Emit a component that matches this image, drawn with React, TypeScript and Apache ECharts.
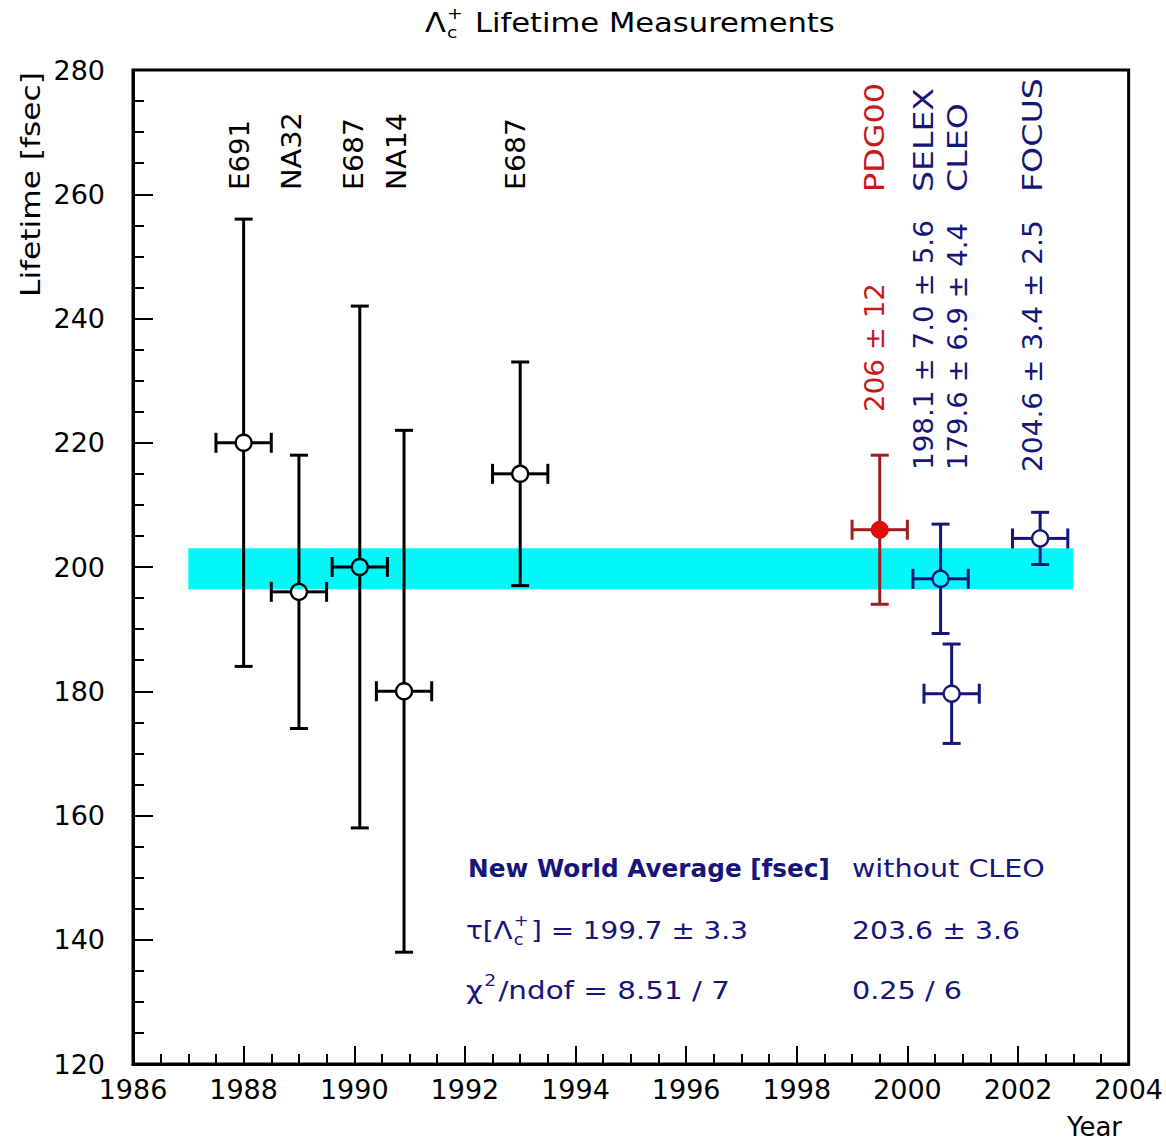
import React, { useEffect, useRef } from "react";
import * as echarts from "echarts";

// ---- data ----
const experiments = ["E691", "NA32", "E687", "NA14", "E687", "PDG00", "SELEX", "CLEO", "FOCUS"];
const years = [1988.0, 1989.0, 1990.1, 1990.9, 1993.0, 1999.5, 2000.6, 2000.8, 2002.4];
const lifetimes = [220, 196, 200, 180, 215, 206, 198.1, 179.6, 204.6];
const errLow = [36, 22, 42, 42, 18, 12, 8.8, 8.0, 4.2];
const errHigh = [36, 22, 42, 42, 18, 12, 8.8, 8.0, 4.2];
const yearErr = [0.5, 0.5, 0.5, 0.5, 0.5, 0.5, 0.5, 0.5, 0.5];
const groups = ["old", "old", "old", "old", "old", "pdg", "new", "new", "new"];
const resultTexts = ["", "", "", "", "", "206 ± 12", "198.1 ± 7.0 ± 5.6", "179.6 ± 6.9 ± 4.4", "204.6 ± 3.4 ± 2.5"];

const worldAverage = 199.7;
const worldAverageErr = 3.3;
const bandYears = [1987, 2003];
const noCleoAverage = "203.6 ± 3.6";
const chi2 = "8.51 / 7";
const chi2NoCleo = "0.25 / 6";

const xMin = 1986, xMax = 2004, xStep = 2;
const yMin = 120, yMax = 280, yStep = 20;

// ---- style ----
const FONT = "DejaVu Sans";
const NAVY = "#15157a";
const RED_TEXT = "#c81818";
const lineColor: Record<string, string> = { old: "#000000", pdg: "#a01c1c", new: NAVY };
const markerFilled: Record<string, boolean> = { old: false, pdg: true, new: false };
const markerStroke: Record<string, string> = { old: "#000000", pdg: "#d01010", new: NAVY };
const markerFillColor: Record<string, string> = { old: "#000000", pdg: "#e00e0e", new: NAVY };

let measureCtx: CanvasRenderingContext2D | null = null;
function measure(text: string, size: number, weight = "normal") {
  if (!measureCtx) measureCtx = document.createElement("canvas").getContext("2d");
  measureCtx!.font = `${weight} ${size}px "${FONT}"`;
  return measureCtx!.measureText(text).width;
}

type Piece = string | { sup?: string; sub?: string };
function run(pieces: Piece[], left: number, right: number, cy: number, size: number, color: string, weight = "normal") {
  const small = Math.round(size * 0.62);
  let x = 0;
  const children: any[] = [];
  const txt = (t: string, px: number, py: number, s: number) => ({
    type: "text",
    x: px,
    y: py,
    style: { text: t, fontSize: s, fontFamily: FONT, fontWeight: weight, fill: color, align: "left", verticalAlign: "middle" },
  });
  for (const p of pieces) {
    if (typeof p === "string") {
      children.push(txt(p, x, 0, size));
      x += measure(p, size, weight);
    } else {
      let adv = 0;
      if (p.sup) {
        children.push(txt(p.sup, x + 1, -size * 0.38, small));
        adv = Math.max(adv, measure(p.sup, small, weight));
      }
      if (p.sub) {
        children.push(txt(p.sub, x + 1, size * 0.36, small));
        adv = Math.max(adv, measure(p.sub, small, weight));
      }
      x += adv + 3;
    }
  }
  return { type: "group", x: left, y: cy, scaleX: (right - left) / x, children };
}

function vlabel(text: string, cx: number, bottom: number, top: number, size: number, color: string) {
  return {
    type: "text",
    x: cx,
    y: bottom,
    rotation: Math.PI / 2,
    scaleX: (bottom - top) / measure(text, size),
    style: { text, fontSize: size, fontFamily: FONT, fill: color, align: "left", verticalAlign: "middle" },
  };
}

export default function App() {
  const ref = useRef<HTMLDivElement>(null);
  useEffect(() => {
    if (!ref.current) return;
    const chart = echarts.init(ref.current, null, { renderer: "svg" });

    const pointData = years.map((y, i) => [y, lifetimes[i], errLow[i], errHigh[i], yearErr[i], i]);
    const bandData = [[bandYears[0], bandYears[1], worldAverage - worldAverageErr, worldAverage + worldAverageErr]];

    // label layout (pixels): [centre x, bottom y, top y]
    const nameLayout = [
      [240, 190, 120], [292, 190, 112], [354, 190, 118], [397, 190, 113], [516, 190, 118],
      [875, 192, 83], [924, 192, 88], [958, 192, 103], [1033, 192, 78],
    ];
    const resultLayout: Record<number, number[]> = { 5: [875, 412, 283], 6: [924, 470, 220], 7: [958, 470, 223], 8: [1033, 472, 220] };

    const graphics: any[] = [];
    experiments.forEach((name, i) => {
      const [cx, b, t] = nameLayout[i];
      const col = groups[i] === "pdg" ? RED_TEXT : lineColor[groups[i]];
      graphics.push(vlabel(name, cx, b, t, 26, col));
      if (resultLayout[i]) {
        const [rx, rb, rt] = resultLayout[i];
        graphics.push(vlabel(resultTexts[i], rx, rb, rt, 26, col));
      }
    });
    // title
    graphics.push(run(["Λ", { sup: "+", sub: "c" }, " Lifetime Measurements"], 425, 835, 23, 26, "#000"));
    // axis titles
    graphics.push(vlabel("Lifetime [fsec]", 31, 297, 72, 26, "#000"));
    graphics.push({
      type: "text", x: 1122, y: 1127,
      style: { text: "Year", fontSize: 26, fontFamily: FONT, fill: "#000", align: "right", verticalAlign: "middle" },
    });
    // averages box
    graphics.push(run(["New World Average [fsec]"], 468, 830, 868, 25, NAVY, "bold"));
    graphics.push(run(["without CLEO"], 852, 1045, 868, 25, NAVY));
    graphics.push(run(["τ[Λ", { sup: "+", sub: "c" }, `] = ${worldAverage.toFixed(1)} ± ${worldAverageErr.toFixed(1)}`], 466, 748, 930, 25, NAVY));
    graphics.push(run([noCleoAverage], 852, 1020, 930, 25, NAVY));
    graphics.push(run(["χ", { sup: "2" }, `/ndof = ${chi2}`], 466, 730, 990, 25, NAVY));
    graphics.push(run([chi2NoCleo], 852, 962, 990, 25, NAVY));

    const labelStyle = {
      color: "#000", fontFamily: FONT, fontSize: 27, showMinLabel: true, showMaxLabel: true,
      formatter: (v: number) => String(v),
    };
    const axisCommon = {
      type: "value",
      axisLine: { show: true, onZero: false, lineStyle: { color: "#000", width: 3 } },
      splitLine: { show: false },
    };

    chart.setOption({
      animation: false,
      backgroundColor: "#ffffff",
      grid: { left: 133, top: 70, width: 997, height: 994, show: true, borderColor: "#000", borderWidth: 3, backgroundColor: "transparent" },
      xAxis: {
        ...axisCommon,
        min: xMin, max: xMax, interval: xStep,
        axisTick: { show: true, inside: true, length: 18, lineStyle: { color: "#000", width: 2 } },
        minorTick: { show: true, splitNumber: 4, length: 10, lineStyle: { color: "#000", width: 2 } },
        axisLabel: { ...labelStyle, margin: 12 },
      },
      yAxis: {
        ...axisCommon,
        min: yMin, max: yMax, interval: yStep,
        axisTick: { show: true, inside: true, length: 20, lineStyle: { color: "#000", width: 2 } },
        minorTick: { show: true, splitNumber: 4, length: 11, lineStyle: { color: "#000", width: 2 } },
        axisLabel: { ...labelStyle, margin: 28 },
      },
      series: [
        {
          type: "custom",
          data: bandData,
          encode: { x: [0, 1], y: [2, 3] },
          renderItem: (params: any, api: any) => {
            const p1 = api.coord([api.value(0), api.value(3)]);
            const p2 = api.coord([api.value(1), api.value(2)]);
            return {
              type: "rect",
              shape: { x: p1[0], y: p1[1], width: p2[0] - p1[0], height: p2[1] - p1[1] },
              style: { fill: "#00f8f8" },
            };
          },
          z: 1,
        },
        {
          type: "custom",
          data: pointData,
          encode: { x: 0, y: 1 },
          renderItem: (params: any, api: any) => {
            const x = api.value(0), y = api.value(1);
            const lo = api.value(2), hi = api.value(3), xe = api.value(4);
            const g = groups[api.value(5)];
            const c = api.coord([x, y]);
            const pHi = api.coord([x, y + hi]);
            const pLo = api.coord([x, y - lo]);
            const pL = api.coord([x - xe, y]);
            const pR = api.coord([x + xe, y]);
            const r = 8;
            const st = { stroke: lineColor[g], lineWidth: 3 };
            const ln = (x1: number, y1: number, x2: number, y2: number) => ({ type: "line", shape: { x1, y1, x2, y2 }, style: st });
            const marker = markerFilled[g]
              ? { type: "circle", shape: { cx: c[0], cy: c[1], r: r + 1 }, style: { fill: markerFillColor[g] } }
              : { type: "ring", shape: { cx: c[0], cy: c[1], r: r + 1.2, r0: r - 1.2 }, style: { fill: markerStroke[g] } };
            return {
              type: "group",
              children: [
                ln(c[0], c[1] - r, c[0], pHi[1]),
                ln(c[0], c[1] + r, c[0], pLo[1]),
                ln(c[0] - r, c[1], pL[0], c[1]),
                ln(c[0] + r, c[1], pR[0], c[1]),
                ln(c[0] - 9, pHi[1], c[0] + 9, pHi[1]),
                ln(c[0] - 9, pLo[1], c[0] + 9, pLo[1]),
                ln(pL[0], c[1] - 10, pL[0], c[1] + 10),
                ln(pR[0], c[1] - 10, pR[0], c[1] + 10),
                marker,
              ],
            };
          },
          z: 3,
        },
      ],
      graphic: graphics,
    });

    return () => chart.dispose();
  }, []);

  return <div ref={ref} style={{ position: "absolute", left: 0, top: 0, width: 1166, height: 1144, background: "#fff" }} />;
}
